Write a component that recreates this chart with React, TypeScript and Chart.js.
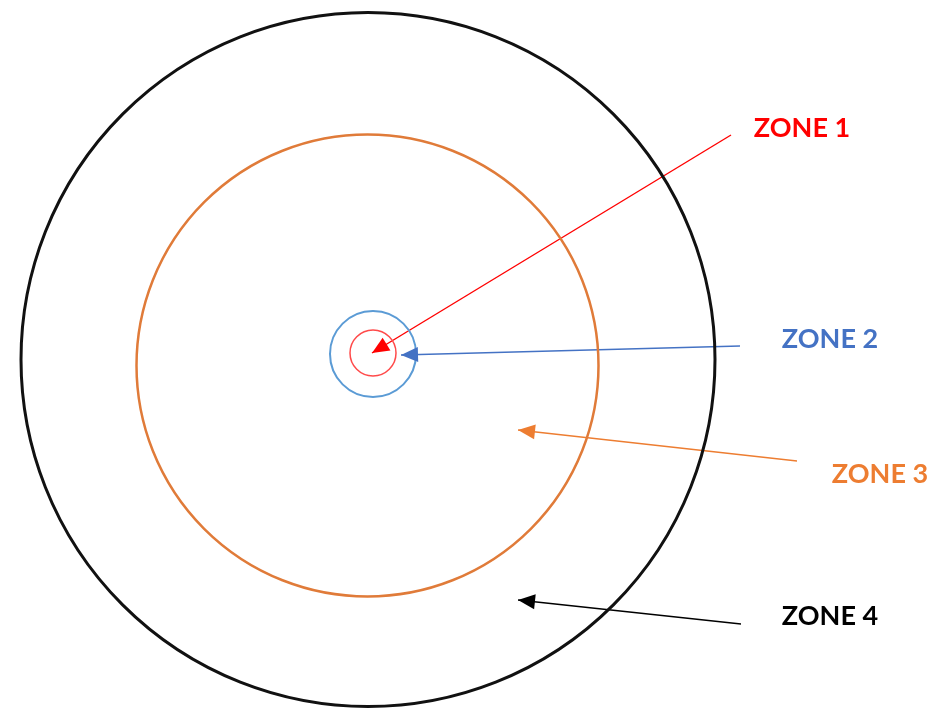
import React, { useEffect, useRef } from "react";
import { Chart, registerables } from "chart.js";

Chart.register(...registerables);

// Zone rings (innermost to outermost)
const zoneNames = ["ZONE 1", "ZONE 2", "ZONE 3", "ZONE 4"];
const ringX = [373, 373, 367.5, 368];
const ringY = [353, 354, 365.5, 359.5];
const ringR = [23, 43, 231, 347];

// Arrows: from label to zone
const arrowStartX = [731, 740, 797, 741];
const arrowStartY = [135, 346, 461, 624];
const arrowEndX = [372, 401, 518, 518];
const arrowEndY = [353, 355, 430, 600];

// Labels
const labelX = [802, 830, 880, 830];
const labelY = [128, 339, 474, 616];

const ringColors = ["#FF4A4A", "#5B9BD5", "#E07B39", "#111111"];
const ringWidths = [1.5, 2, 2.5, 3];
const arrowColors = ["#FF0000", "#4472C4", "#ED7D31", "#000000"];
const textColors = ["#FF0000", "#4472C4", "#ED7D31", "#000000"];

const W = 932;
const H = 708;

const arrowPlugin = {
  id: "arrowHeadsAndLabels",
  afterDatasetsDraw(chart: any) {
    const ctx = chart.ctx;
    chart.data.datasets.forEach((ds: any, i: number) => {
      if (ds.arrowIndex === undefined) return;
      const meta = chart.getDatasetMeta(i);
      const pts = meta.data;
      if (pts.length < 2) return;
      const a = pts[0];
      const b = pts[pts.length - 1];
      const ang = Math.atan2(b.y - a.y, b.x - a.x);
      const len = 17;
      const half = 7.5;
      ctx.save();
      ctx.fillStyle = ds.borderColor;
      ctx.translate(b.x, b.y);
      ctx.rotate(ang);
      ctx.beginPath();
      ctx.moveTo(0, 0);
      ctx.lineTo(-len, -half);
      ctx.lineTo(-len, half);
      ctx.closePath();
      ctx.fill();
      ctx.restore();
    });
    const xs = chart.scales.x;
    const ys = chart.scales.y;
    ctx.save();
    ctx.font = "bold 27px Lato, 'Open Sans', sans-serif";
    ctx.textAlign = "center";
    ctx.textBaseline = "middle";
    zoneNames.forEach((name, i) => {
      ctx.fillStyle = textColors[i];
      ctx.fillText(name, xs.getPixelForValue(labelX[i]), ys.getPixelForValue(labelY[i]));
    });
    ctx.restore();
  },
};

export default function App() {
  const ref = useRef<HTMLCanvasElement | null>(null);
  useEffect(() => {
    if (!ref.current) return;
    const ringDatasets = zoneNames.map((name, i) => ({
      type: "bubble" as const,
      label: name + " ring",
      data: [{ x: ringX[i], y: ringY[i], r: ringR[i] }],
      backgroundColor: "rgba(0,0,0,0)",
      borderColor: ringColors[i],
      borderWidth: ringWidths[i],
      hoverRadius: 0,
      clip: false,
    }));
    const arrowDatasets = zoneNames.map((name, i) => ({
      type: "line" as const,
      label: name + " arrow",
      arrowIndex: i,
      data: [
        { x: arrowStartX[i], y: arrowStartY[i] },
        { x: arrowEndX[i], y: arrowEndY[i] },
      ],
      borderColor: arrowColors[i],
      borderWidth: 1.4,
      pointRadius: 0,
      fill: false,
      clip: false,
    }));
    const chart = new Chart(ref.current, {
      type: "bubble",
      data: { datasets: [...ringDatasets, ...arrowDatasets] as any },
      options: {
        animation: false,
        responsive: false,
        events: [],
        layout: { padding: 0, autoPadding: false },
        plugins: { legend: { display: false }, tooltip: { enabled: false } },
        scales: {
          x: { type: "linear", min: 0, max: W, display: false },
          y: { type: "linear", min: 0, max: H, reverse: true, display: false },
        },
      },
      plugins: [arrowPlugin],
    });
    return () => chart.destroy();
  }, []);
  return (
    <div style={{ position: "fixed", left: 0, top: 0, width: W, height: H, background: "#fff" }}>
      <canvas ref={ref} width={W} height={H} style={{ width: W, height: H, display: "block" }} />
    </div>
  );
}
